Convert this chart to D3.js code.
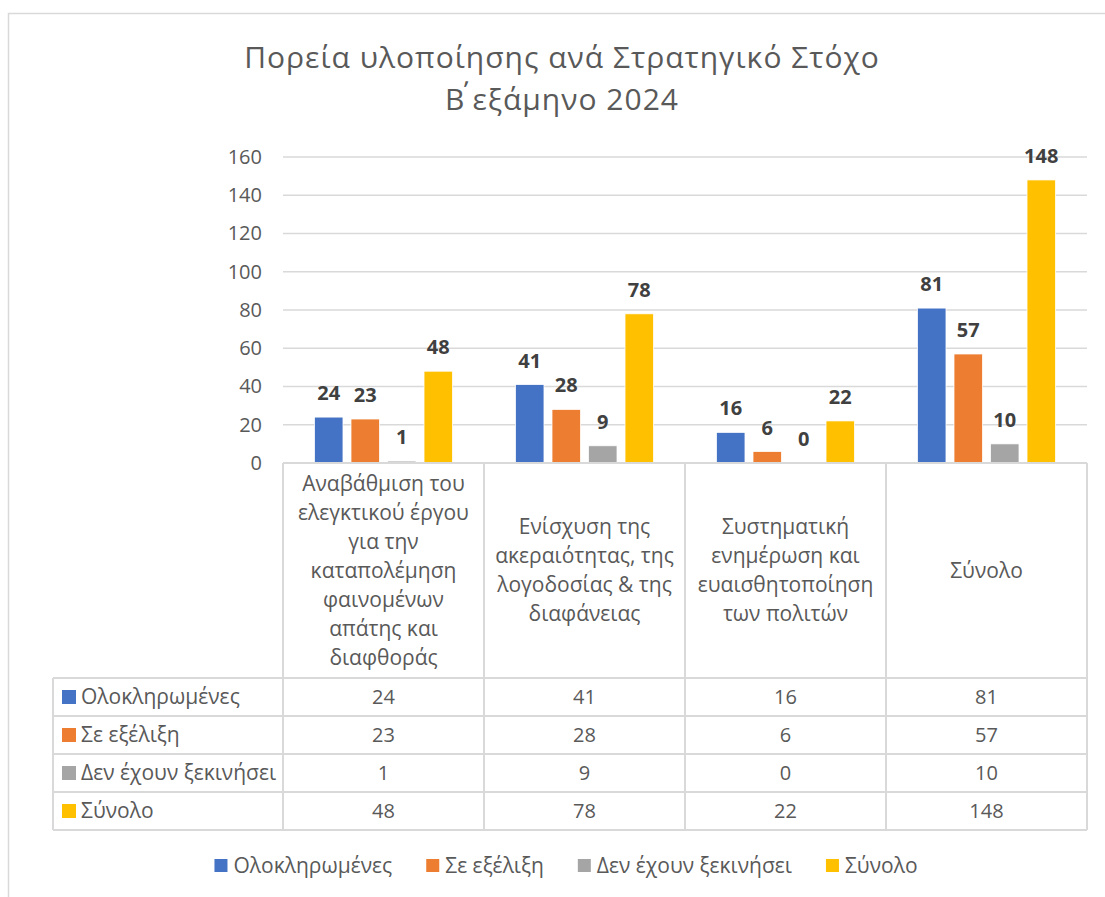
<!DOCTYPE html>
<html>
<head>
<meta charset="utf-8">
<script src="https://cdn.jsdelivr.net/npm/d3@7"></script>
<style>
  body { margin: 0; background: #fff; }
  text { font-family: "Open Sans", "Noto Sans", sans-serif; }
</style>
</head>
<body>
<div id="chart"></div>
<script>
// chart data
var titleLines = ["Πορεία υλοποίησης ανά Στρατηγικό Στόχο", "Β΄εξάμηνο 2024"];
var categories = [
    ["Αναβάθμιση του", "ελεγκτικού έργου", "για την", "καταπολέμηση", "φαινομένων", "απάτης και", "διαφθοράς"],
    ["Ενίσχυση της", "ακεραιότητας, της", "λογοδοσίας & της", "διαφάνειας"],
    ["Συστηματική", "ενημέρωση και", "ευαισθητοποίηση", "των πολιτών"],
    ["Σύνολο"]
];
var seriesNames = ["Ολοκληρωμένες", "Σε εξέλιξη", "Δεν έχουν ξεκινήσει", "Σύνολο"];
var completed = [24, 41, 16, 81];
var inProgress = [23, 28, 6, 57];
var notStarted = [1, 9, 0, 10];
var total = [48, 78, 22, 148];
var yTicks = [0, 20, 40, 60, 80, 100, 120, 140, 160];
var colors = ["#4472C4", "#ED7D31", "#A5A5A5", "#FFC000"];

var seriesValues = [completed, inProgress, notStarted, total];

var WIDTH = 1105, HEIGHT = 897;
var GRID = "#D9D9D9", TEXT = "#595959";
var WORD_SIZE = "21px", NUM_SIZE = "20px";

// plot / table geometry
var plotLeft = 283, plotRight = 1087;
var plotTop = 157, plotBottom = 463;
var headerBottom = 678, rowH = 38;
var labelLeft = 53;

var svg = d3.select("#chart").append("svg")
    .attr("width", WIDTH)
    .attr("height", HEIGHT);

// outer chart border (runs off the picture on the right and bottom)
svg.append("rect")
    .attr("x", 8.5).attr("y", 13.5)
    .attr("width", WIDTH).attr("height", HEIGHT)
    .attr("fill", "none")
    .attr("stroke", GRID)
    .attr("stroke-width", 1.5);

// title - the tonos mark gets its own tspan so it does not sit on top of the next letter
var title = svg.append("g").selectAll("text")
    .data(titleLines)
    .enter().append("text")
    .attr("x", 562)
    .attr("y", function(d, i) { return 68 + i * 42; })
    .attr("text-anchor", "middle")
    .attr("fill", TEXT)
    .attr("font-size", "30px")
    .attr("letter-spacing", "1px");

title.each(function(d) {
    var parts = d.split("΄");
    var t = d3.select(this);
    parts.forEach(function(p, i) {
        if (i > 0) {
            t.append("tspan").attr("dx", "0.32em").text("΄");
            t.append("tspan").attr("dx", "-0.12em").text(p);
        } else {
            t.append("tspan").text(p);
        }
    });
});

var y = d3.scaleLinear().domain([0, 160]).range([plotBottom, plotTop]);

var x0 = d3.scaleBand()
    .domain(d3.range(categories.length))
    .range([plotLeft, plotRight])
    .padding(0);

var x1 = d3.scaleBand()
    .domain(d3.range(seriesNames.length))
    .range([31.5, x0.bandwidth() - 31.5])
    .paddingInner(0.22);

// gridlines
svg.append("g").selectAll("line")
    .data(yTicks.filter(function(t) { return t > 0; }))
    .enter().append("line")
    .attr("x1", plotLeft).attr("x2", plotRight)
    .attr("y1", function(d) { return y(d); })
    .attr("y2", function(d) { return y(d); })
    .attr("stroke", GRID)
    .attr("stroke-width", 1.5);

// y axis labels
var yAxis = d3.axisLeft(y).tickValues(yTicks).tickSize(0).tickPadding(0);
var yg = svg.append("g")
    .attr("transform", "translate(" + 262 + ",0)")
    .call(yAxis);
yg.select(".domain").remove();
yg.selectAll("text")
    .attr("fill", TEXT)
    .attr("font-size", NUM_SIZE)
    .attr("font-family", "Open Sans, sans-serif");

// bars
var groups = svg.append("g").selectAll("g")
    .data(categories)
    .enter().append("g")
    .attr("transform", function(d, i) { return "translate(" + x0(i) + ",0)"; });

var cells = groups.selectAll("g")
    .data(function(d, ci) {
        return seriesValues.map(function(vals, si) { return { s: si, v: vals[ci] }; });
    })
    .enter().append("g");

cells.append("rect")
    .attr("x", function(d) { return x1(d.s); })
    .attr("y", function(d) { return y(d.v); })
    .attr("width", x1.bandwidth())
    .attr("height", function(d) { return y(0) - y(d.v); })
    .attr("fill", function(d) { return colors[d.s]; })
    .attr("stroke", "#fff")
    .attr("stroke-width", 0.75);

cells.append("text")
    .attr("x", function(d) { return x1(d.s) + x1.bandwidth() / 2; })
    .attr("y", function(d) { return y(d.v) - 17; })
    .attr("text-anchor", "middle")
    .attr("font-size", "20px")
    .attr("font-weight", "bold")
    .attr("fill", "#404040")
    .text(function(d) { return d.v; });

// data table
var table = svg.append("g")
    .attr("stroke", GRID)
    .attr("stroke-width", 2)
    .attr("fill", "none");

// top of header row
table.append("line")
    .attr("x1", plotLeft).attr("x2", plotRight)
    .attr("y1", plotBottom).attr("y2", plotBottom);

// row separators
table.selectAll(".hrow")
    .data(d3.range(seriesNames.length + 1))
    .enter().append("line")
    .attr("class", "hrow")
    .attr("x1", labelLeft).attr("x2", plotRight)
    .attr("y1", function(d) { return headerBottom + d * rowH; })
    .attr("y2", function(d) { return headerBottom + d * rowH; });

// column separators
table.selectAll(".vcol")
    .data(d3.range(categories.length + 1))
    .enter().append("line")
    .attr("class", "vcol")
    .attr("x1", function(d) { return plotLeft + d * x0.bandwidth(); })
    .attr("x2", function(d) { return plotLeft + d * x0.bandwidth(); })
    .attr("y1", plotBottom)
    .attr("y2", headerBottom + seriesNames.length * rowH);

table.append("line")
    .attr("x1", labelLeft).attr("x2", labelLeft)
    .attr("y1", headerBottom)
    .attr("y2", headerBottom + seriesNames.length * rowH);

// category header text
var headerMid = (plotBottom + headerBottom) / 2;
var lineH = 29;
groups.each(function(lines) {
    d3.select(this).append("g").selectAll("text")
        .data(lines)
        .enter().append("text")
        .attr("x", x0.bandwidth() / 2)
        .attr("y", function(d, i) { return headerMid + (i - (lines.length - 1) / 2) * lineH; })
        .attr("dy", "0.35em")
        .attr("text-anchor", "middle")
        .attr("font-size", WORD_SIZE)
        .attr("fill", TEXT)
        .text(function(d) { return d; });
});

// table rows
var rows = svg.append("g").selectAll("g")
    .data(seriesNames)
    .enter().append("g")
    .attr("transform", function(d, i) { return "translate(0," + (headerBottom + i * rowH + rowH / 2) + ")"; });

rows.append("rect")
    .attr("x", 62).attr("y", -7)
    .attr("width", 14).attr("height", 14)
    .attr("fill", function(d, i) { return colors[i]; });

rows.append("text")
    .attr("x", 81)
    .attr("dy", "0.35em")
    .attr("font-size", WORD_SIZE)
    .attr("fill", TEXT)
    .text(function(d) { return d; });

rows.selectAll(".val")
    .data(function(d, i) { return seriesValues[i]; })
    .enter().append("text")
    .attr("class", "val")
    .attr("x", function(d, i) { return x0(i) + x0.bandwidth() / 2; })
    .attr("dy", "0.35em")
    .attr("text-anchor", "middle")
    .attr("font-size", NUM_SIZE)
    .attr("fill", TEXT)
    .text(function(d) { return d; });

// legend
var legend = svg.append("g");
var items = legend.selectAll("g")
    .data(seriesNames)
    .enter().append("g");

items.append("rect")
    .attr("y", -7)
    .attr("width", 13).attr("height", 13)
    .attr("fill", function(d, i) { return colors[i]; });

items.append("text")
    .attr("x", 19)
    .attr("dy", "0.35em")
    .attr("font-size", WORD_SIZE)
    .attr("fill", TEXT)
    .text(function(d) { return d; });

var offset = 0;
var widths = [];
items.each(function() {
    var w = 19 + d3.select(this).select("text").node().getComputedTextLength();
    widths.push(w);
});
var legendGap = 34;
var legendW = d3.sum(widths) + legendGap * (widths.length - 1);
var legendX = 566 - legendW / 2;
items.attr("transform", function(d, i) {
    var tx = legendX + offset;
    offset += widths[i] + legendGap;
    return "translate(" + tx + "," + 866 + ")";
});
</script>
</body>
</html>
